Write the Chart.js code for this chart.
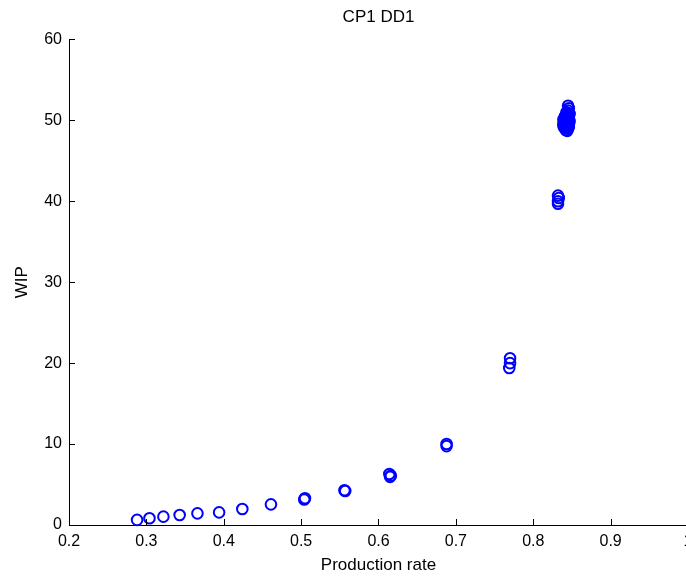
<!DOCTYPE html>
<html>
<head>
<meta charset="utf-8">
<script src="https://cdn.jsdelivr.net/npm/chart.js@4.4.1/dist/chart.umd.min.js"></script>
<style>
  html, body { margin: 0; padding: 0; background: #fff; overflow: hidden; }
  #wrap { width: 700px; height: 580px; }
</style>
</head>
<body>
<div id="wrap"><canvas id="scatter"></canvas></div>
<script>
// production rate (x) and WIP (y)
const prodRate = [
  0.288, 0.304, 0.322, 0.343, 0.366, 0.394, 0.424, 0.461, 0.504, 0.505,
  0.556, 0.557, 0.614, 0.615, 0.616, 0.688, 0.688, 0.770, 0.770, 0.769,
  0.832, 0.833, 0.832, 0.832,
  0.845, 0.846, 0.845, 0.844, 0.843, 0.842, 0.841, 0.840, 0.841, 0.840,
  0.842, 0.844, 0.845, 0.846, 0.845, 0.846, 0.844, 0.843, 0.842, 0.845,
  0.843, 0.846, 0.844, 0.841, 0.839, 0.839, 0.847, 0.847, 0.839
];
const wip = [
  0.63, 0.83, 1.03, 1.23, 1.44, 1.56, 1.97, 2.55, 3.15, 3.3,
  4.3, 4.2, 6.3, 5.95, 6.1, 10.0, 9.75, 20.6, 20.0, 19.4,
  40.7, 40.4, 40.0, 39.7,
  51.8, 51.5, 51.2, 50.9, 50.6, 50.3, 50.0, 49.7, 49.4, 49.1,
  48.8, 48.7, 49.0, 49.5, 50.0, 50.4, 50.2, 49.3, 49.9, 50.7,
  51.0, 49.2, 49.8, 50.5, 49.6, 50.1, 49.9, 50.8, 49.3
];
const xTicks = [0.2, 0.3, 0.4, 0.5, 0.6, 0.7, 0.8, 0.9, 1];
const xTickLabels = ['0.2', '0.3', '0.4', '0.5', '0.6', '0.7', '0.8', '0.9', '1'];
const yTicks = [0, 10, 20, 30, 40, 50, 60];
const yTickLabels = ['0', '10', '20', '30', '40', '50', '60'];

const FONT = "'Liberation Sans', Arial, Helvetica, sans-serif";

// matlab style ticks pointing into the plot
const innerTicks = {
  id: 'innerTicks',
  afterDraw(chart) {
    const { ctx, chartArea, scales } = chart;
    ctx.save();
    ctx.strokeStyle = '#000';
    ctx.lineWidth = 1;
    ctx.beginPath();
    xTicks.forEach(v => {
      const px = Math.round(scales.x.getPixelForValue(v)) + 0.5;
      ctx.moveTo(px, chartArea.bottom);
      ctx.lineTo(px, chartArea.bottom - 6);
    });
    yTicks.forEach(v => {
      const py = Math.round(scales.y.getPixelForValue(v)) + 0.5;
      ctx.moveTo(chartArea.left, py);
      ctx.lineTo(chartArea.left + 6, py);
    });
    ctx.stroke();
    ctx.restore();
  }
};

const points = prodRate.map((x, i) => ({ x: x, y: wip[i] }));

new Chart(document.getElementById('scatter'), {
  type: 'scatter',
  data: {
    datasets: [{
      data: points,
      pointStyle: 'circle',
      pointRadius: 5.3,
      pointHoverRadius: 5.3,
      pointBorderWidth: 2,
      borderColor: '#0000ff',
      backgroundColor: 'rgba(0,0,0,0)',
      clip: false
    }]
  },
  options: {
    responsive: true,
    maintainAspectRatio: false,
    animation: false,
    layout: { padding: { left: 0, right: 12, top: 0, bottom: 0 } },
    plugins: {
      legend: { display: false },
      tooltip: { enabled: false },
      title: {
        display: true,
        text: 'CP1 DD1',
        fullSize: false,
        color: '#000',
        font: { family: FONT, size: 17, weight: 'normal' },
        padding: { top: 7, bottom: 12 }
      }
    },
    scales: {
      x: {
        type: 'linear',
        min: 0.2,
        max: 1,
        afterBuildTicks: s => { s.ticks = xTicks.map(v => ({ value: v })); },
        afterFit: s => { s.height = 55; },
        grid: { display: true, drawOnChartArea: false, drawTicks: false },
        border: { display: true, color: '#000', width: 1 },
        ticks: {
          color: '#000',
          padding: 7,
          maxRotation: 0,
          font: { family: FONT, size: 16 },
          callback: (v, i) => xTickLabels[i]
        },
        title: {
          display: true,
          text: 'Production rate',
          color: '#000',
          font: { family: FONT, size: 17 },
          padding: { top: 0, bottom: 4 }
        }
      },
      y: {
        type: 'linear',
        min: 0,
        max: 60,
        afterBuildTicks: s => { s.ticks = yTicks.map(v => ({ value: v })); },
        afterFit: s => { s.width = 69; },
        grid: { display: true, drawOnChartArea: false, drawTicks: false },
        border: { display: true, color: '#000', width: 1 },
        ticks: {
          color: '#000',
          padding: 7,
          font: { family: FONT, size: 16 },
          callback: (v, i) => yTickLabels[i]
        },
        title: {
          display: true,
          text: 'WIP',
          color: '#000',
          font: { family: FONT, size: 17 },
          padding: { top: 12, bottom: 0 }
        }
      }
    }
  },
  plugins: [innerTicks]
});
</script>
</body>
</html>
